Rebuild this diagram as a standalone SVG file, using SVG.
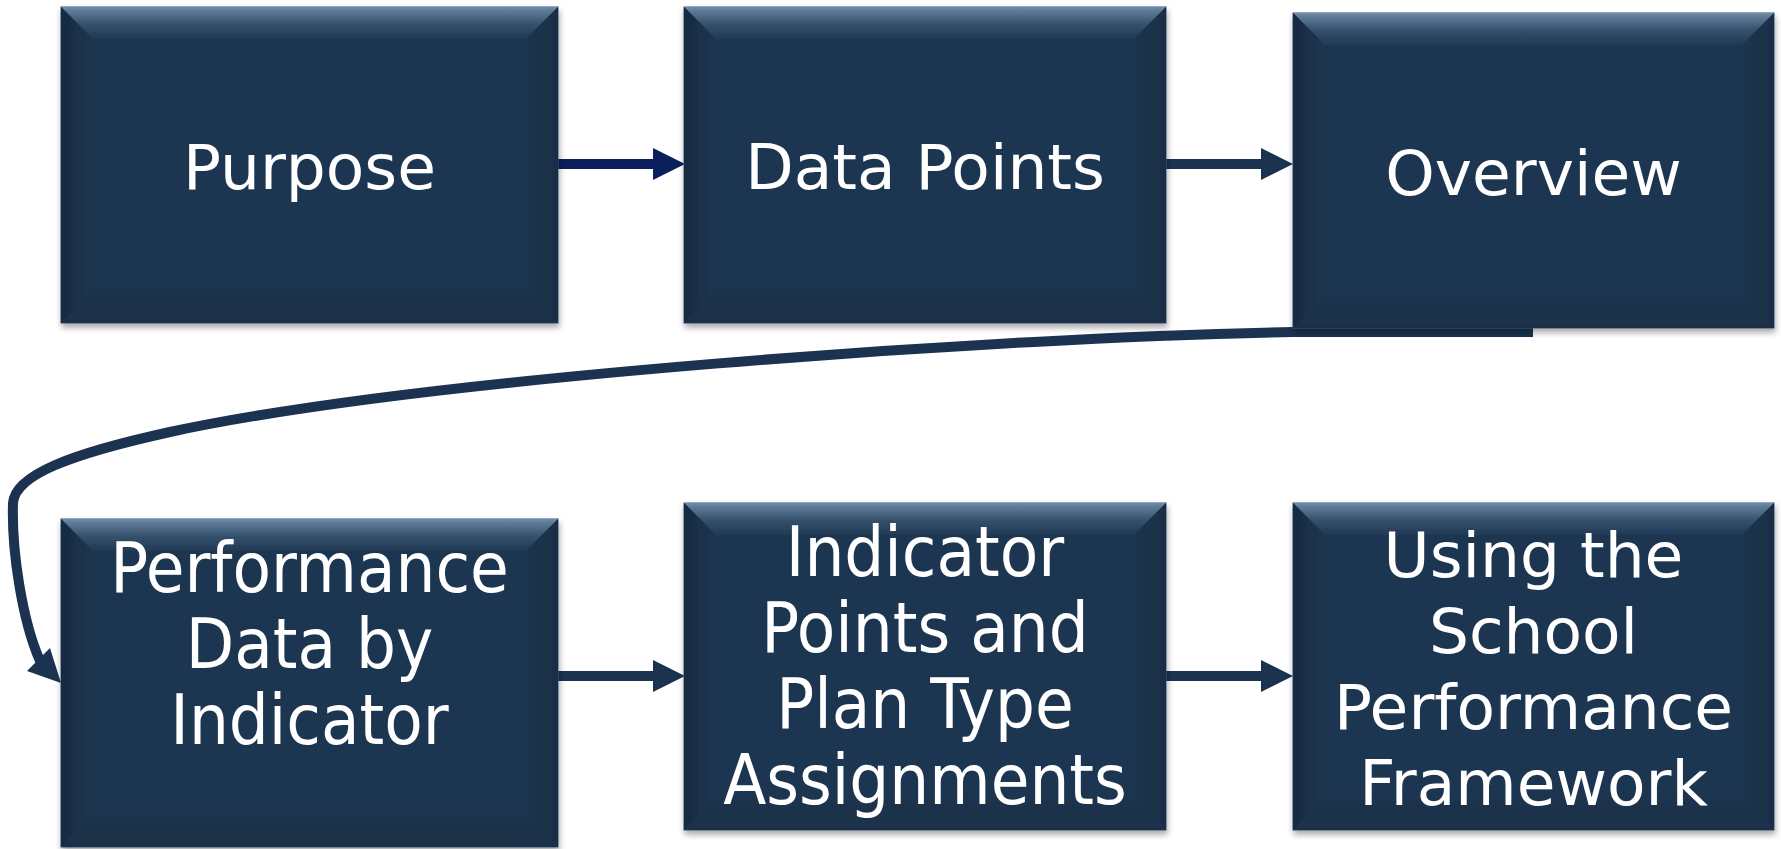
<svg xmlns="http://www.w3.org/2000/svg" width="1781" height="849" viewBox="0 0 1781 849">
<style>
.base{fill:#1f3651;stroke:#3b5571;stroke-width:1}
.bt{fill:url(#gTop)}
.bl{fill:url(#gLeft)}
.br{fill:url(#gRight)}
.bb{fill:url(#gBot)}
.t1{font-family:"DejaVu Sans",Verdana,sans-serif;font-size:63px;fill:#ffffff;text-anchor:middle}
.t2{font-family:"DejaVu Sans Condensed","DejaVu Sans",sans-serif;font-stretch:condensed;font-size:70px;fill:#ffffff;text-anchor:middle}
.conn{fill:none;stroke:#1b3350;stroke-width:10}
.head{fill:#1b3350}
</style>
<defs>
<linearGradient id="gTop" x1="0" y1="0" x2="0" y2="1">
<stop offset="0" stop-color="#6f8caa"/>
<stop offset="0.15" stop-color="#5a7794"/>
<stop offset="0.55" stop-color="#34506c"/>
<stop offset="1" stop-color="#213a55"/>
</linearGradient>
<linearGradient id="gLeft" x1="0" y1="0" x2="1" y2="0">
<stop offset="0" stop-color="#162a41"/>
<stop offset="1" stop-color="#1f3651"/>
</linearGradient>
<linearGradient id="gRight" x1="0" y1="0" x2="1" y2="0">
<stop offset="0" stop-color="#1e3550"/>
<stop offset="1" stop-color="#192e46"/>
</linearGradient>
<linearGradient id="gBot" x1="0" y1="0" x2="0" y2="1">
<stop offset="0" stop-color="#1e344e"/>
<stop offset="1" stop-color="#1a2f47"/>
</linearGradient>
<filter id="sh" x="-5%" y="-5%" width="110%" height="115%">
<feDropShadow dx="1" dy="4" stdDeviation="3" flood-color="#000000" flood-opacity="0.35"/>
</filter>
</defs>

<g id="connectors">
<line x1="558" y1="164" x2="655" y2="164" stroke="#0a1f5c" stroke-width="10"/>
<polygon points="653,148 685,164 653,180" fill="#0a1f5c"/>
<line x1="1166" y1="164" x2="1263" y2="164" class="conn"/>
<polygon points="1261,148 1293,164 1261,180" class="head"/>
<line x1="558" y1="676" x2="655" y2="676" class="conn"/>
<polygon points="653,660 685,676 653,692" class="head"/>
<line x1="1166" y1="676" x2="1263" y2="676" class="conn"/>
<polygon points="1261,660 1293,676 1261,692" class="head"/>
<path d="M 1533 332 L 1293 332 C 1000 337, 420 378, 170 432 C 70 454, 15 475, 13 503 C 11.5 550, 22 620, 40 661" class="conn" stroke-width="9"/>
<polygon points="61,683 27,671 50,648" class="head"/>
</g>

<g id="node-purpose" filter="url(#sh)">
<rect x="61" y="7" width="497" height="316" class="base"/>
<polygon points="61,7 558,7 526,39 93,39" class="bt"/>
<polygon points="61,7 93,39 93,291 61,323" class="bl"/>
<polygon points="558,7 558,323 526,291 526,39" class="br"/>
<polygon points="61,323 93,291 526,291 558,323" class="bb"/>
<text x="309.5" y="189" class="t1">Purpose</text>
</g>

<g id="node-datapoints" filter="url(#sh)">
<rect x="684" y="7" width="482" height="316" class="base"/>
<polygon points="684,7 1166,7 1134,39 716,39" class="bt"/>
<polygon points="684,7 716,39 716,291 684,323" class="bl"/>
<polygon points="1166,7 1166,323 1134,291 1134,39" class="br"/>
<polygon points="684,323 716,291 1134,291 1166,323" class="bb"/>
<text x="925" y="189" class="t1">Data Points</text>
</g>

<g id="node-overview" filter="url(#sh)">
<rect x="1293" y="13" width="481" height="315" class="base"/>
<polygon points="1293,13 1774,13 1742,45 1325,45" class="bt"/>
<polygon points="1293,13 1325,45 1325,296 1293,328" class="bl"/>
<polygon points="1774,13 1774,328 1742,296 1742,45" class="br"/>
<polygon points="1293,328 1325,296 1742,296 1774,328" class="bb"/>
<text x="1533.5" y="195" class="t1">Overview</text>
</g>

<g id="node-performance" filter="url(#sh)">
<rect x="61" y="519" width="497" height="328" class="base"/>
<polygon points="61,519 558,519 526,551 93,551" class="bt"/>
<polygon points="61,519 93,551 93,815 61,847" class="bl"/>
<polygon points="558,519 558,847 526,815 526,551" class="br"/>
<polygon points="61,847 93,815 526,815 558,847" class="bb"/>
<text class="t2"><tspan x="309.5" y="592">Performance</tspan><tspan x="309.5" y="668">Data by</tspan><tspan x="309.5" y="744">Indicator</tspan></text>
</g>

<g id="node-indicator" filter="url(#sh)">
<rect x="684" y="503" width="482" height="327" class="base"/>
<polygon points="684,503 1166,503 1134,535 716,535" class="bt"/>
<polygon points="684,503 716,535 716,798 684,830" class="bl"/>
<polygon points="1166,503 1166,830 1134,798 1134,535" class="br"/>
<polygon points="684,830 716,798 1134,798 1166,830" class="bb"/>
<text class="t2"><tspan x="925" y="576">Indicator</tspan><tspan x="925" y="652">Points and</tspan><tspan x="925" y="728">Plan Type</tspan><tspan x="925" y="804">Assignments</tspan></text>
</g>

<g id="node-using" filter="url(#sh)">
<rect x="1293" y="503" width="481" height="327" class="base"/>
<polygon points="1293,503 1774,503 1742,535 1325,535" class="bt"/>
<polygon points="1293,503 1325,535 1325,798 1293,830" class="bl"/>
<polygon points="1774,503 1774,830 1742,798 1742,535" class="br"/>
<polygon points="1293,830 1325,798 1742,798 1774,830" class="bb"/>
<text class="t1"><tspan x="1533.5" y="577">Using the</tspan><tspan x="1533.5" y="653">School</tspan><tspan x="1533.5" y="729">Performance</tspan><tspan x="1533.5" y="805">Framework</tspan></text>
</g>
</svg>
